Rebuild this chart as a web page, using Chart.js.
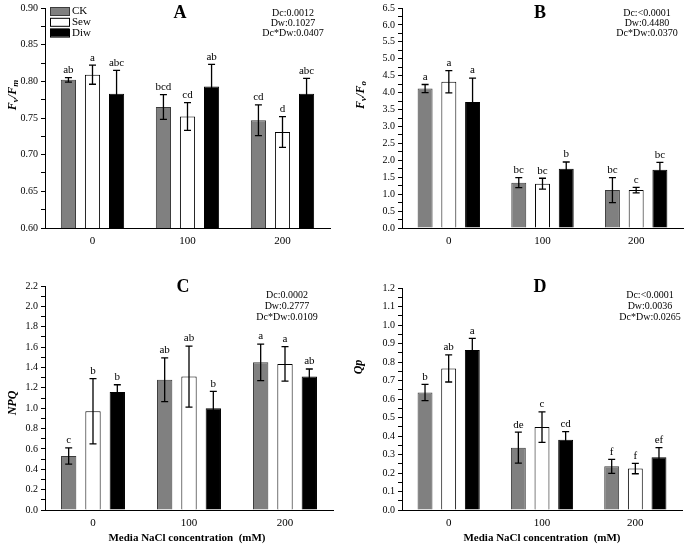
<!DOCTYPE html>
<html>
<head>
<meta charset="utf-8">
<script src="https://cdn.jsdelivr.net/npm/chart.js@4.4.0/dist/chart.umd.min.js"></script>
<style>
  html, body { margin: 0; padding: 0; background: #fff; }
  #wrap { position: relative; width: 685px; height: 546px; }
  canvas { position: absolute; }
</style>
</head>
<body>
<div id="wrap">
  <canvas id="cA" width="345" height="270" style="left:0;top:0"></canvas>
  <canvas id="cB" width="340" height="270" style="left:345px;top:0"></canvas>
  <canvas id="cC" width="345" height="276" style="left:0;top:270px"></canvas>
  <canvas id="cD" width="340" height="276" style="left:345px;top:270px"></canvas>
</div>
<script>
// ===== Data =====
var groups = ['0', '100', '200'];
var seriesNames = ['CK', 'Sew', 'Diw'];

// A: Fv/Fm
var fvfmCK  = [0.802, 0.765, 0.747];
var fvfmSew = [0.809, 0.752, 0.731];
var fvfmDiw = [0.783, 0.793, 0.783];
var fvfmErrCK  = [0.003, 0.017, 0.021];
var fvfmErrSew = [0.013, 0.019, 0.021];
var fvfmErrDiw = [0.032, 0.030, 0.021];
var fvfmSigCK  = ['ab', 'bcd', 'cd'];
var fvfmSigSew = ['a', 'cd', 'd'];
var fvfmSigDiw = ['abc', 'ab', 'abc'];
var fvfmStats = ['Dc:0.0012', 'Dw:0.1027', 'Dc*Dw:0.0407'];

// B: Fv/Fo
var fvfoCK  = [4.12, 1.34, 1.12];
var fvfoSew = [4.32, 1.31, 1.12];
var fvfoDiw = [3.72, 1.75, 1.72];
var fvfoErrCK  = [0.12, 0.15, 0.37];
var fvfoErrSew = [0.33, 0.16, 0.08];
var fvfoErrDiw = [0.71, 0.20, 0.22];
var fvfoSigCK  = ['a', 'bc', 'bc'];
var fvfoSigSew = ['a', 'bc', 'c'];
var fvfoSigDiw = ['a', 'b', 'bc'];
var fvfoStats = ['Dc:<0.0001', 'Dw:0.4480', 'Dc*Dw:0.0370'];

// C: NPQ
var npqCK  = [0.53, 1.28, 1.45];
var npqSew = [0.97, 1.31, 1.435];
var npqDiw = [1.16, 1.00, 1.31];
var npqErrCK  = [0.08, 0.215, 0.18];
var npqErrSew = [0.32, 0.30, 0.17];
var npqErrDiw = [0.07, 0.165, 0.075];
var npqSigCK  = ['c', 'ab', 'a'];
var npqSigSew = ['b', 'ab', 'a'];
var npqSigDiw = ['b', 'b', 'ab'];
var npqStats = ['Dc:0.0002', 'Dw:0.2777', 'Dc*Dw:0.0109'];

// D: Qp
var qpCK  = [0.635, 0.337, 0.236];
var qpSew = [0.765, 0.448, 0.224];
var qpDiw = [0.865, 0.380, 0.285];
var qpErrCK  = [0.044, 0.084, 0.038];
var qpErrSew = [0.073, 0.082, 0.028];
var qpErrDiw = [0.063, 0.044, 0.052];
var qpSigCK  = ['b', 'de', 'f'];
var qpSigSew = ['ab', 'c', 'f'];
var qpSigDiw = ['a', 'cd', 'ef'];
var qpStats = ['Dc:<0.0001', 'Dw:0.0036', 'Dc*Dw:0.0265'];

var xTitle = 'Media NaCl concentration  (mM)';

// ===== Style =====
var SERIF = '"Liberation Serif", "Times New Roman", serif';
var fills   = ['#808080', '#ffffff', '#000000'];
var borders = ['#3c3c3c', '#000000', '#000000'];

// error bars, letters, panel letter, stats, legend, axis titles
var decor = {
  id: 'decor',
  afterDatasetsDraw: function(chart, args, o) {
    var ctx = chart.ctx, ys = chart.scales.y;
    ctx.save();
    chart.data.datasets.forEach(function(ds, di) {
      var meta = chart.getDatasetMeta(di);
      meta.data.forEach(function(bar, i) {
        var v = ds.data[i], e = ds.err[i];
        var top = ys.getPixelForValue(v + e), bot = ys.getPixelForValue(v - e);
        ctx.strokeStyle = '#000';
        ctx.lineWidth = 1.3;
        ctx.beginPath();
        ctx.moveTo(bar.x, top); ctx.lineTo(bar.x, bot);
        ctx.moveTo(bar.x - 3.5, top); ctx.lineTo(bar.x + 3.5, top);
        ctx.moveTo(bar.x - 3.5, bot); ctx.lineTo(bar.x + 3.5, bot);
        ctx.stroke();
        ctx.fillStyle = '#000';
        ctx.font = '11px ' + SERIF;
        ctx.textAlign = 'center';
        ctx.textBaseline = 'bottom';
        ctx.fillText(ds.sig[i], bar.x, top - 2);
      });
    });

    // panel letter
    ctx.fillStyle = '#000';
    ctx.font = 'bold 18px ' + SERIF;
    ctx.textAlign = 'center';
    ctx.textBaseline = 'middle';
    ctx.fillText(o.letter, o.letterX, o.letterY);

    // stats
    ctx.font = '10px ' + SERIF;
    o.stats.forEach(function(s, k) {
      ctx.fillText(s, o.statsX, o.statsY + k * o.statsGap);
    });

    // legend
    if (o.legend) {
      seriesNames.forEach(function(n, k) {
        var y0 = 7 + k * 10.8;
        ctx.fillStyle = fills[k];
        ctx.fillRect(50, y0, 19, 8);
        ctx.strokeStyle = borders[k];
        ctx.lineWidth = 1;
        ctx.strokeRect(50.5, y0 + 0.5, 19, 8);
        ctx.fillStyle = '#000';
        ctx.font = '11px ' + SERIF;
        ctx.textAlign = 'left';
        ctx.fillText(n, 72, y0 + 4.5);
      });
    }

    // y title (rotated, with subscripts)
    ctx.save();
    ctx.translate(o.yTitleX, o.yTitleY);
    ctx.rotate(-Math.PI / 2);
    ctx.fillStyle = '#000';
    ctx.textBaseline = 'alphabetic';
    ctx.textAlign = 'left';
    var total = 0;
    o.yTitle.forEach(function(p) {
      ctx.font = 'italic bold ' + (p[1] ? 9 : 12) + 'px ' + SERIF;
      total += ctx.measureText(p[0]).width;
    });
    var cx = -total / 2;
    o.yTitle.forEach(function(p) {
      ctx.font = 'italic bold ' + (p[1] ? 9 : 12) + 'px ' + SERIF;
      ctx.fillText(p[0], cx, p[1] ? 6 : 4);
      cx += ctx.measureText(p[0]).width;
    });
    ctx.restore();

    // x title
    if (o.xTitle) {
      ctx.font = 'bold 11px ' + SERIF;
      ctx.textAlign = 'center';
      ctx.textBaseline = 'middle';
      ctx.fillText(o.xTitle, o.xTitleX, o.xTitleY);
    }
    ctx.restore();
  }
};

function panel(id, vals, errs, sigs, axis, layout, deco) {
  var datasets = seriesNames.map(function(n, k) {
    return {
      label: n,
      data: vals[k],
      err: errs[k],
      sig: sigs[k],
      backgroundColor: fills[k],
      borderColor: borders[k],
      borderWidth: 1,
      categoryPercentage: 0.76,
      barPercentage: 0.63,
    };
  });
  return new Chart(document.getElementById(id), {
    type: 'bar',
    data: { labels: groups, datasets: datasets },
    options: {
      responsive: false,
      animation: false,
      layout: { padding: layout.pad },
      plugins: {
        legend: { display: false },
        tooltip: { enabled: false },
        decor: deco,
      },
      scales: {
        x: {
          offset: true,
          grid: { drawOnChartArea: false, drawTicks: false },
          border: { color: '#000', width: 1 },
          ticks: { color: '#000', padding: 7, font: { family: SERIF, size: 11 } },
          afterFit: function(s) { s.height = layout.xh; },
        },
        y: {
          min: axis.min,
          max: axis.max,
          grid: { drawOnChartArea: false, drawTicks: true, tickLength: 4, color: '#000' },
          border: { color: '#000', width: 1 },
          ticks: {
            stepSize: axis.minor,
            autoSkip: false,
            padding: 3,
            color: '#000',
            font: { family: SERIF, size: 10, lineHeight: 1 },
            callback: function(v) {
              var k = v / axis.major;
              return Math.abs(k - Math.round(k)) < 1e-6 ? v.toFixed(axis.dec) : '';
            },
          },
          afterFit: function(s) { s.width = layout.yw; },
        },
      },
    },
    plugins: [decor],
  });
}

panel('cA',
  [fvfmCK, fvfmSew, fvfmDiw], [fvfmErrCK, fvfmErrSew, fvfmErrDiw], [fvfmSigCK, fvfmSigSew, fvfmSigDiw],
  { min: 0.6, max: 0.9, major: 0.05, minor: 0.025, dec: 2 },
  { pad: { left: 0, top: 6, right: 15, bottom: 0 }, yw: 45, xh: 42 },
  { letter: 'A', letterX: 180, letterY: 13, stats: fvfmStats, statsX: 293, statsY: 13, statsGap: 10.3,
    legend: true, yTitle: [['F', 0], ['v', 1], ['/', 0], ['F', 0], ['m', 1]], yTitleX: 12, yTitleY: 95 });

panel('cB',
  [fvfoCK, fvfoSew, fvfoDiw], [fvfoErrCK, fvfoErrSew, fvfoErrDiw], [fvfoSigCK, fvfoSigSew, fvfoSigDiw],
  { min: 0, max: 6.5, major: 0.5, minor: 0.25, dec: 1 },
  { pad: { left: 0, top: 4, right: 2, bottom: 0 }, yw: 57, xh: 42 },
  { letter: 'B', letterX: 195, letterY: 13, stats: fvfoStats, statsX: 302, statsY: 13, statsGap: 10.3,
    legend: false, yTitle: [['F', 0], ['v', 1], ['/', 0], ['F', 0], ['o', 1]], yTitleX: 15, yTitleY: 95 });

panel('cC',
  [npqCK, npqSew, npqDiw], [npqErrCK, npqErrSew, npqErrDiw], [npqSigCK, npqSigSew, npqSigDiw],
  { min: 0, max: 2.2, major: 0.2, minor: 0.1, dec: 1 },
  { pad: { left: 0, top: 16, right: 12, bottom: 0 }, yw: 45, xh: 36 },
  { letter: 'C', letterX: 183, letterY: 17, stats: npqStats, statsX: 287, statsY: 25, statsGap: 11,
    legend: false, yTitle: [['NPQ', 0]], yTitleX: 12, yTitleY: 133,
    xTitle: xTitle, xTitleX: 187, xTitleY: 268 });

panel('cD',
  [qpCK, qpSew, qpDiw], [qpErrCK, qpErrSew, qpErrDiw], [qpSigCK, qpSigSew, qpSigDiw],
  { min: 0, max: 1.2, major: 0.1, minor: 0.05, dec: 1 },
  { pad: { left: 0, top: 18, right: 3, bottom: 0 }, yw: 57, xh: 36 },
  { letter: 'D', letterX: 195, letterY: 17, stats: qpStats, statsX: 305, statsY: 25, statsGap: 11,
    legend: false, yTitle: [['Qp', 0]], yTitleX: 13, yTitleY: 97,
    xTitle: xTitle, xTitleX: 197, xTitleY: 268 });
</script>
</body>
</html>
